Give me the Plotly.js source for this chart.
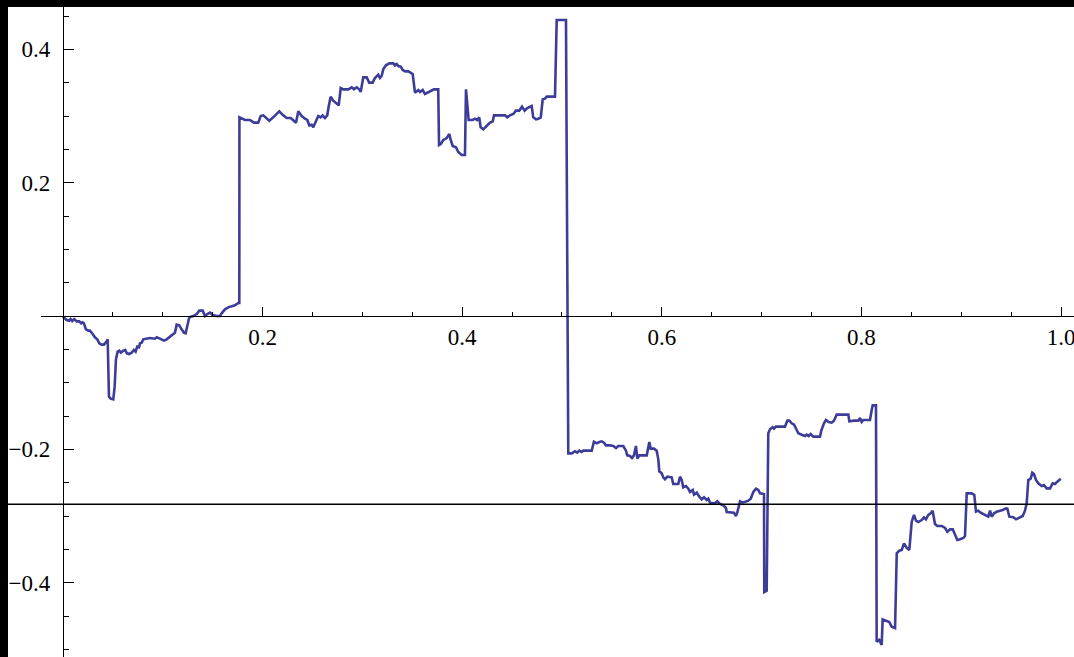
<!DOCTYPE html>
<html>
<head>
<meta charset="utf-8">
<script src="https://cdn.plot.ly/plotly-3.0.1.min.js"></script>
<style>html,body{margin:0;padding:0;background:#fff;}#chart{width:1074px;height:657px;}</style>
</head>
<body>
<div id="chart"></div>
<script>
// ---- data ----
const xs = [
0.0000,0.0020,0.0037,0.0063,0.0077,0.0093,0.0113,0.0137,0.0163,0.0183,0.0197,0.0210,0.0230,0.0254,0.0270,0.0298,0.0320,0.0344,0.0364,0.0388,
0.0411,0.0438,0.0448,0.0461,0.0478,0.0504,0.0518,0.0531,0.0548,0.0564,0.0581,0.0604,0.0624,0.0641,0.0664,0.0688,0.0711,0.0728,0.0744,0.0762,
0.0772,0.0789,0.0805,0.0832,0.0872,0.0922,0.0939,0.0972,0.1012,0.1039,0.1065,0.1089,0.1122,0.1139,0.1165,0.1189,0.1212,0.1229,0.1246,0.1266,
0.1306,0.1340,0.1366,0.1400,0.1423,0.1446,0.1473,0.1500,0.1540,0.1573,0.1590,0.1623,0.1656,0.1690,0.1723,0.1757,0.1767,0.1768,
0.1791,0.1824,0.1874,0.1914,0.1957,0.1981,0.2007,0.2034,0.2067,0.2107,0.2167,0.2207,0.2241,0.2282,0.2308,0.2335,0.2358,0.2392,0.2425,0.2448,
0.2468,0.2492,0.2508,0.2535,0.2558,0.2582,0.2602,0.2625,0.2648,0.2662,0.2682,0.2708,0.2735,0.2763,0.2783,0.2809,0.2859,0.2893,0.2916,0.2943,
0.2969,0.2983,0.3009,0.3043,0.3069,0.3103,0.3126,0.3159,0.3176,0.3193,0.3209,0.3236,0.3270,0.3310,0.3327,0.3344,0.3360,0.3384,0.3404,0.3430,
0.3460,0.3484,0.3504,0.3527,0.3560,0.3577,0.3604,0.3627,0.3660,0.3694,0.3717,0.3760,0.3768,0.3785,0.3811,0.3845,0.3871,0.3885,0.3905,0.3938,
0.3961,0.3995,0.4028,0.4038,0.4051,0.4065,0.4105,0.4128,0.4151,0.4171,0.4185,0.4211,0.4245,0.4279,0.4306,0.4319,0.4429,0.4452,0.4479,0.4512,
0.4539,0.4572,0.4599,0.4626,0.4652,0.4696,0.4712,0.4740,0.4763,0.4787,0.4807,0.4830,0.4847,0.4930,0.4947,0.5040,0.5063,
0.5097,0.5130,0.5153,0.5173,0.5197,0.5213,0.5298,0.5320,0.5348,0.5374,0.5398,0.5421,0.5441,0.5481,0.5514,0.5541,0.5564,0.5614,0.5641,0.5654,
0.5681,0.5701,0.5721,0.5741,0.5755,0.5775,0.5849,0.5875,0.5889,0.5922,0.5949,0.5965,0.5975,0.5999,0.6015,0.6032,0.6055,0.6099,0.6115,0.6165,
0.6182,0.6199,0.6215,0.6242,0.6266,0.6283,0.6310,0.6323,0.6350,0.6376,0.6400,0.6423,0.6450,0.6466,0.6483,0.6533,0.6556,0.6583,0.6616,0.6643,
0.6650,0.6723,0.6743,0.6756,0.6784,0.6811,0.6834,0.6867,0.6891,0.6917,0.6944,0.6967,0.6984,0.7024,0.7027,0.7051,0.7067,0.7084,0.7111,0.7124,
0.7144,0.7234,0.7258,0.7278,0.7301,0.7325,0.7352,0.7368,0.7402,0.7435,0.7452,0.7472,0.7492,0.7518,0.7585,0.7598,0.7625,0.7645,0.7672,0.7702,
0.7725,0.7752,0.7869,0.7879,0.7926,0.7969,0.7986,0.8003,0.8019,0.8086,0.8103,0.8113,0.8146,0.8153,0.8179,0.8203,0.8213,0.8253,0.8279,0.8303,
0.8337,0.8354,0.8380,0.8404,0.8427,0.8454,0.8480,0.8504,0.8527,0.8547,0.8570,0.8604,0.8627,0.8647,0.8670,0.8694,0.8714,0.8737,0.8761,0.8805,
0.8838,0.8861,0.8888,0.8915,0.8938,0.8961,0.8988,0.9021,0.9038,0.9055,0.9105,0.9131,0.9148,0.9171,0.9195,0.9221,0.9248,0.9271,0.9289,0.9305,
0.9329,0.9356,0.9389,0.9416,0.9449,0.9462,0.9482,0.9522,0.9549,0.9582,0.9616,0.9639,0.9656,0.9672,0.9696,0.9712,0.9729,0.9749,0.9772,0.9806,
0.9829,0.9856,0.9890,0.9916,0.9940,0.9963,0.9997
];
const ys = [
-0.001,-0.0045,-0.006,-0.007,-0.0045,-0.0075,-0.0045,-0.008,-0.008,-0.011,-0.0095,-0.011,-0.020,-0.022,-0.022,-0.027,-0.032,-0.035,-0.041,-0.043,
-0.043,-0.038,-0.035,-0.121,-0.124,-0.125,-0.106,-0.065,-0.0535,-0.052,-0.055,-0.052,-0.051,-0.056,-0.057,-0.055,-0.051,-0.0535,-0.046,-0.047,
-0.041,-0.040,-0.035,-0.034,-0.033,-0.034,-0.032,-0.034,-0.037,-0.035,-0.032,-0.030,-0.025,-0.013,-0.014,-0.020,-0.025,-0.026,-0.016,-0.002,
0.000,0.003,0.008,0.008,0.000,0.003,0.005,0.0015,0.000,0.000,0.004,0.010,0.013,0.014,0.016,0.0195,0.0195,0.298,
0.2965,0.294,0.294,0.290,0.290,0.300,0.301,0.298,0.293,0.298,0.307,0.301,0.297,0.297,0.294,0.290,0.307,0.300,0.296,0.294,
0.286,0.287,0.283,0.292,0.300,0.298,0.301,0.297,0.301,0.314,0.329,0.323,0.319,0.316,0.342,0.340,0.340,0.343,0.340,0.343,
0.340,0.336,0.358,0.358,0.350,0.350,0.357,0.362,0.357,0.360,0.370,0.376,0.379,0.379,0.376,0.378,0.375,0.374,0.369,0.367,
0.367,0.365,0.363,0.335,0.339,0.336,0.339,0.333,0.336,0.339,0.340,0.340,0.2565,0.258,0.264,0.267,0.273,0.264,0.255,0.253,
0.246,0.2415,0.2415,0.340,0.314,0.294,0.294,0.296,0.294,0.298,0.283,0.280,0.285,0.290,0.292,0.301,0.301,0.298,0.301,0.303,
0.308,0.308,0.314,0.308,0.312,0.315,0.298,0.295,0.296,0.298,0.325,0.326,0.329,0.329,0.444,0.444,-0.206,
-0.206,-0.203,-0.205,-0.202,-0.204,-0.202,-0.202,-0.1885,-0.191,-0.189,-0.188,-0.190,-0.194,-0.194,-0.195,-0.198,-0.195,-0.195,-0.202,-0.209,
-0.210,-0.213,-0.209,-0.195,-0.214,-0.209,-0.209,-0.189,-0.199,-0.199,-0.202,-0.215,-0.233,-0.236,-0.242,-0.245,-0.241,-0.242,-0.252,-0.252,
-0.241,-0.246,-0.257,-0.255,-0.259,-0.264,-0.261,-0.268,-0.265,-0.271,-0.275,-0.272,-0.276,-0.274,-0.280,-0.281,-0.278,-0.282,-0.284,-0.288,
-0.294,-0.295,-0.300,-0.295,-0.278,-0.280,-0.279,-0.277,-0.274,-0.264,-0.259,-0.261,-0.266,-0.267,-0.414,-0.412,-0.176,-0.170,-0.167,-0.169,
-0.166,-0.166,-0.157,-0.157,-0.161,-0.163,-0.171,-0.176,-0.178,-0.180,-0.178,-0.180,-0.177,-0.181,-0.181,-0.172,-0.161,-0.156,-0.159,-0.160,
-0.157,-0.148,-0.148,-0.158,-0.157,-0.157,-0.153,-0.159,-0.156,-0.156,-0.141,-0.134,-0.134,-0.4885,-0.486,-0.4935,-0.455,-0.457,-0.459,-0.466,
-0.468,-0.356,-0.352,-0.351,-0.341,-0.348,-0.351,-0.3085,-0.2985,-0.307,-0.309,-0.306,-0.302,-0.305,-0.2985,-0.296,-0.292,-0.312,-0.315,-0.315,
-0.318,-0.3235,-0.320,-0.320,-0.3285,-0.336,-0.335,-0.333,-0.330,-0.266,-0.266,-0.2685,-0.2935,-0.292,-0.295,-0.297,-0.300,-0.301,-0.292,-0.301,
-0.296,-0.2935,-0.292,-0.291,-0.2885,-0.289,-0.301,-0.302,-0.305,-0.302,-0.300,-0.292,-0.281,-0.246,-0.244,-0.235,-0.237,-0.246,-0.251,-0.255,
-0.2535,-0.2585,-0.2585,-0.251,-0.252,-0.2485,-0.244
];
const levelLine = -0.2824;
const xTickVals = [0.2, 0.4, 0.6, 0.8, 1.0];
const xTickText = ["0.2", "0.4", "0.6", "0.8", "1.0"];
const yTickVals = [-0.4, -0.2, 0.2, 0.4];
const yTickText = ["\u22120.4", "\u22120.2", "0.2", "0.4"];

// ---- layout geometry ----
const W = 1074, H = 657;
const xRange = [-0.0223, 1.013];
const yRange = [-0.5115, 0.474];
const xDom = [40.7 / W, 1];
const yAxisPos = xDom[0] + (0 - xRange[0]) / (xRange[1] - xRange[0]) * (xDom[1] - xDom[0]);
const xAxisPos = (0 - yRange[0]) / (yRange[1] - yRange[0]);

function minorVals(lo, hi, step, majors) {
  const out = [];
  for (let i = Math.ceil(lo / step); i * step <= hi + 1e-9; i++) {
    const v = +(i * step).toFixed(4);
    if (Math.abs(v) < 1e-9) continue;
    if (majors.some(m => Math.abs(m - v) < 1e-9)) continue;
    out.push(v);
  }
  return out;
}

const tickFont = {family: "'Liberation Serif', 'Times New Roman', Times, serif", size: 23, color: "#000"};

const trace = {
  x: xs, y: ys, type: "scatter", mode: "lines",
  line: {color: "#3d3d99", width: 2.6},
  hoverinfo: "skip"
};

const layout = {
  width: W, height: H,
  margin: {l: 0, r: 0, t: 0, b: 0, pad: 0},
  paper_bgcolor: "#fff", plot_bgcolor: "#fff",
  showlegend: false,
  xaxis: {
    domain: xDom, range: xRange, anchor: "free", position: xAxisPos,
    showgrid: false, zeroline: false, showline: true, linecolor: "#000", linewidth: 1.2,
    tickmode: "array", tickvals: xTickVals, ticktext: xTickText,
    ticks: "inside", ticklen: 9, tickwidth: 1, tickcolor: "#000",
    tickfont: tickFont, ticklabelstandoff: 0, ticklabeloverflow: "allow",
    minor: {tickmode: "array", tickvals: minorVals(0, 1.01, 0.05, xTickVals), ticks: "inside", ticklen: 4, tickwidth: 1, tickcolor: "#000"}
  },
  yaxis: {
    domain: [0, 1], range: yRange, anchor: "free", position: yAxisPos,
    showgrid: false, zeroline: false, showline: true, linecolor: "#000", linewidth: 1.2,
    tickmode: "array", tickvals: yTickVals, ticktext: yTickText,
    ticks: "inside", ticklen: 10, tickwidth: 1, tickcolor: "#000",
    tickfont: tickFont, ticklabelstandoff: 8, ticklabeloverflow: "allow",
    minor: {tickmode: "array", tickvals: minorVals(-0.5, 0.47, 0.05, yTickVals), ticks: "inside", ticklen: 5, tickwidth: 1, tickcolor: "#000"}
  },
  shapes: [
    {type: "line", xref: "paper", yref: "y", x0: 0, x1: 1, y0: levelLine, y1: levelLine, line: {color: "#000", width: 1.3}, layer: "above"},
    {type: "rect", xref: "paper", yref: "paper", x0: 0, x1: 8 / W, y0: 0, y1: 1, fillcolor: "#000", line: {width: 0}, layer: "above"},
    {type: "rect", xref: "paper", yref: "paper", x0: 0, x1: 1, y0: 1 - 7 / H, y1: 1, fillcolor: "#000", line: {width: 0}, layer: "above"}
  ]
};

Plotly.newPlot("chart", [trace], layout, {staticPlot: true, displayModeBar: false});
</script>
</body>
</html>
